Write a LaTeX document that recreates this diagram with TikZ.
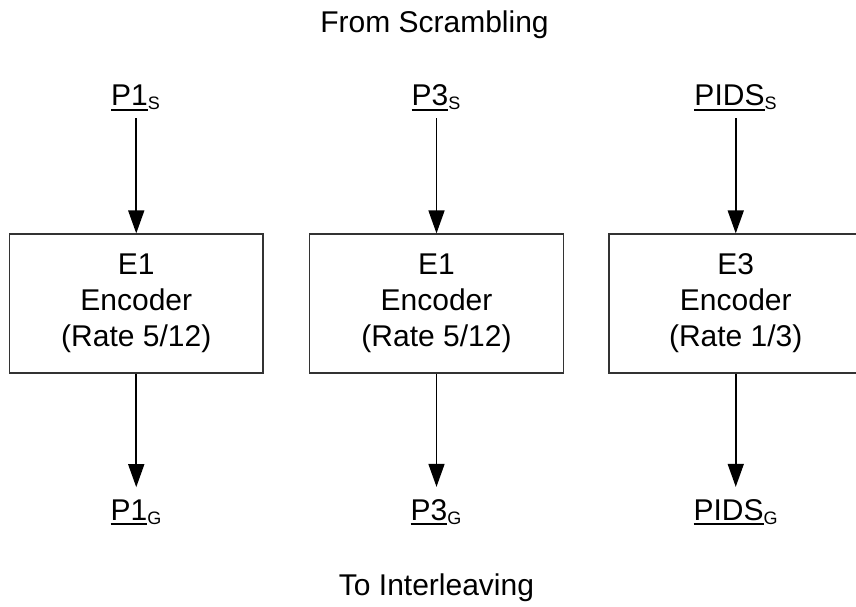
\documentclass[tikz,border=0pt]{standalone}
\usepackage{fontspec}
\setmainfont{Liberation Sans}
\usetikzlibrary{arrows.meta}
\newcommand{\ulsub}[2]{\setbox0\hbox{#1}\rlap{\rule[-5pt]{\wd0}{1.8pt}}\box0\raisebox{-4pt}{\fontsize{18}{18}\selectfont #2}}
\tikzset{
  encbox/.style={draw=black!80, line width=1.2pt, minimum width=253.5pt, minimum height=139pt, align=center, inner sep=0pt, font=\fontsize{30}{36}\selectfont},
  lbl/.style={anchor=base, inner sep=0pt, font=\fontsize{30}{36}\selectfont},
  arr/.style={line width=1.6pt, -{Triangle[length=23pt,width=16pt]}},
}
\begin{document}
\begin{tikzpicture}[x=1pt,y=-1pt]
\useasboundingbox (0,0) rectangle (856,607);
\node[lbl] (from) at (434.5,33) {From Scrambling};
\node[lbl] (to) at (436.5,595) {To Interleaving};

\node[encbox] (b1) at (136.25,303.5) {E1\\Encoder\\(Rate 5/12)};
\node[encbox] (b2) at (436.5,303.5) {E1\\Encoder\\(Rate 5/12)};
\node[encbox] (b3) at (735.75,303.5) {E3\\Encoder\\(Rate 1/3)};

\node[lbl] (p1s) at (135.5,106) {\ulsub{P1}{S}};
\node[lbl] (p3s) at (436,106) {\ulsub{P3}{S}};
\node[lbl] (pidss) at (735.5,106) {\ulsub{PIDS}{S}};

\node[lbl] (p1g) at (136,520) {\ulsub{P1}{G}};
\node[lbl] (p3g) at (436,520) {\ulsub{P3}{G}};
\node[lbl] (pidsg) at (735.5,520) {\ulsub{PIDS}{G}};

\draw[arr, shorten <=7pt] (p1s.south -| b1.north) -- (b1.north);
\draw[arr, shorten <=7pt] (p3s.south -| b2.north) -- (b2.north);
\draw[arr, shorten <=7pt] (pidss.south -| b3.north) -- (b3.north);

\draw[arr, shorten >=12pt] (b1.south) -- (b1.south |- p1g.north);
\draw[arr, shorten >=12pt] (b2.south) -- (b2.south |- p3g.north);
\draw[arr, shorten >=12pt] (b3.south) -- (b3.south |- pidsg.north);
\end{tikzpicture}
\end{document}
